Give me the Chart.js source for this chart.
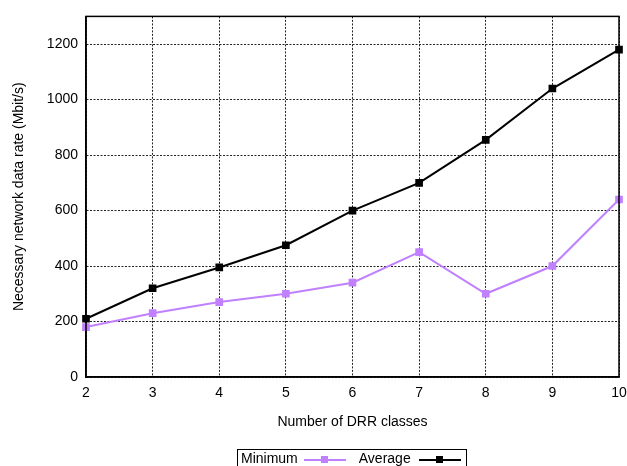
<!DOCTYPE html>
<html>
<head>
<meta charset="utf-8">
<script src="https://cdn.jsdelivr.net/npm/chart.js@4/dist/chart.umd.min.js"></script>
<style>
  html, body { margin: 0; padding: 0; background: #fff; overflow: hidden; }
  #wrap { position: relative; width: 627px; height: 466px; overflow: hidden; }
  #legend { position: absolute; left: 237px; top: 449px; width: 230px; height: 24px;
    border: 1px solid #000; box-sizing: border-box; font: 14px "Liberation Sans", Arial, sans-serif;
    color: #000; white-space: nowrap; padding: 0 0 0 3px; line-height: 17px; }
  #legend span.txt { display: inline-block; vertical-align: top; }
  .sample { position: relative; display: inline-block; vertical-align: top; width: 42px; height: 17px; }
  .sample .ln { position: absolute; left: 0; right: 0; top: 9px; height: 2px; }
  .sample .mk { position: absolute; left: 17px; top: 6px; width: 7px; height: 7px; }
</style>
</head>
<body>
<div id="wrap">
  <canvas id="c" width="627" height="466"></canvas>
  <div id="legend"></div>
</div>
<script>
const categories = [2, 3, 4, 5, 6, 7, 8, 9, 10];
const minimumValues = [180, 230, 270, 300, 340, 450, 300, 400, 640];
const averageValues = [210, 320, 395, 475, 600, 700, 855, 1040, 1180];
const yTicks = [0, 200, 400, 600, 800, 1000, 1200];
const seriesNames = ["Minimum", "Average"];
const xTitle = "Number of DRR classes";
const yTitle = "Necessary network data rate (Mbit/s)";

const purple = "#c080ff";
const black = "#000000";
const FONT = "'Liberation Sans', Arial, sans-serif";

const frame = {
  id: 'frame',
  afterDraw(chart) {
    const a = chart.chartArea, ctx = chart.ctx;
    ctx.save();
    ctx.strokeStyle = '#000';
    ctx.lineWidth = 1.5;
    ctx.setLineDash([]);
    ctx.strokeRect(a.left, a.top, a.right - a.left, a.bottom - a.top);
    ctx.restore();
  }
};

new Chart(document.getElementById('c'), {
  type: 'line',
  data: {
    datasets: [
      { label: seriesNames[0], data: categories.map((x, i) => ({x, y: minimumValues[i]})),
        borderColor: purple, backgroundColor: purple, borderWidth: 2,
        pointStyle: 'rect', pointRadius: 4, pointHoverRadius: 4, tension: 0, clip: false },
      { label: seriesNames[1], data: categories.map((x, i) => ({x, y: averageValues[i]})),
        borderColor: black, backgroundColor: black, borderWidth: 2,
        pointStyle: 'rect', pointRadius: 4, pointHoverRadius: 4, tension: 0, clip: false }
    ]
  },
  options: {
    responsive: false,
    animation: false,
    layout: { padding: { top: 14, right: 0, bottom: 0, left: 0 } },
    plugins: { legend: { display: false }, tooltip: { enabled: false } },
    scales: {
      x: {
        type: 'linear', min: 2, max: 10,
        afterBuildTicks: s => { s.ticks = categories.map(v => ({value: v})); },
        afterFit: s => { s.height = 89; s.paddingRight = 8; s.paddingLeft = 0; },
        grid: { color: '#222', lineWidth: 1, drawTicks: false, tickLength: 0 },
        border: { display: true, color: '#000', width: 1.5, dash: [2, 1.5] },
        ticks: { color: '#000', font: { family: FONT, size: 14 }, padding: 8, maxRotation: 0,
          callback: v => String(v) },
        title: { display: true, text: xTitle, color: '#000', font: { family: FONT, size: 14 },
          padding: { top: 0, bottom: 35 } }
      },
      y: {
        type: 'linear', min: 0, max: 1300,
        afterBuildTicks: s => { s.ticks = yTicks.map(v => ({value: v})); },
        afterFit: s => { s.width = 86; },
        grid: { color: '#222', lineWidth: 1, drawTicks: false, tickLength: 0 },
        border: { display: true, color: '#000', width: 1.5, dash: [2, 1.5] },
        ticks: { color: '#000', font: { family: FONT, size: 14 }, padding: 8,
          callback: v => String(v) },
        title: { display: true, text: yTitle, color: '#000', font: { family: FONT, size: 14 },
          padding: { top: 11, bottom: 0 } }
      }
    }
  },
  plugins: [frame]
});

const legend = document.getElementById('legend');
[[seriesNames[0], purple, 6, 13], [seriesNames[1], black, 8, 0]].forEach(([name, col, ml, mr]) => {
  const t = document.createElement('span'); t.className = 'txt'; t.textContent = name; legend.appendChild(t);
  const s = document.createElement('span'); s.className = 'sample';
  s.style.marginLeft = ml + 'px'; s.style.marginRight = mr + 'px';
  s.innerHTML = '<span class="ln" style="background:' + col + '"></span><span class="mk" style="background:' + col + '"></span>';
  legend.appendChild(s);
});
</script>
</body>
</html>
